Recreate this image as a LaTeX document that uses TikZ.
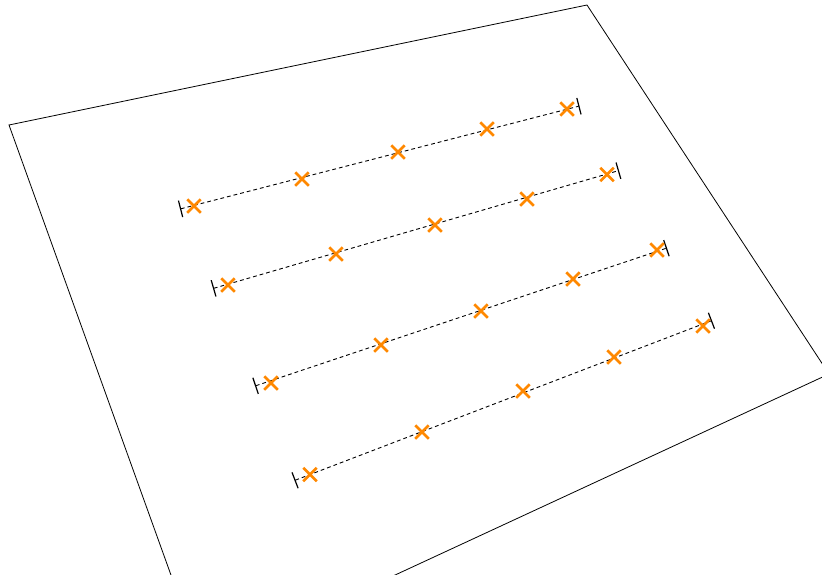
\documentclass[tikz,border=0pt]{standalone}
\usetikzlibrary{shapes.misc,arrows.meta}
\definecolor{markorange}{RGB}{255,136,0}
\tikzset{
  plane/.style={draw=black,line width=0.8pt,line join=miter},
  track/.style={draw=black,line width=0.9pt,dash pattern=on 3.8pt off 3pt,{Bar[width=17pt,line width=1.2pt]}-{Bar[width=17pt,line width=1.2pt]}},
  xmark/.style={cross out,draw=markorange,line width=2.5pt,minimum size=11pt,inner sep=0pt}
}
\begin{document}
\begin{tikzpicture}[x=1pt,y=-1pt]
\useasboundingbox (0,0) rectangle (822,574);
\clip (0,0) rectangle (822,574);
% plane corners
\coordinate (p1) at (9,125);
\coordinate (p2) at (587,5);
\coordinate (p3) at (829,374);
\coordinate (p4) at (203,664);
\draw[plane] (p1) -- (p2) -- (p3) -- (p4) -- cycle;
% track ends
\coordinate (a0) at (180,209);   \coordinate (a1) at (579.5,106);
\coordinate (b0) at (213,288.5); \coordinate (b1) at (619,170.5);
\coordinate (c0) at (255,386);   \coordinate (c1) at (667,248);
\coordinate (d0) at (294.5,480.5); \coordinate (d1) at (712,320.5);
\draw[track] (a0) -- (a1);
\draw[track] (b0) -- (b1);
\draw[track] (c0) -- (c1);
\draw[track] (d0) -- (d1);
% marks
\node[xmark] (ma1) at (194,206) {};
\node[xmark] (ma2) at (302,179) {};
\node[xmark] (ma3) at (398,152) {};
\node[xmark] (ma4) at (487,129) {};
\node[xmark] (ma5) at (567,109) {};
\node[xmark] (mb1) at (228,285) {};
\node[xmark] (mb2) at (336,254) {};
\node[xmark] (mb3) at (435,225) {};
\node[xmark] (mb4) at (527,199) {};
\node[xmark] (mb5) at (607,174.5) {};
\node[xmark] (mc1) at (271,383) {};
\node[xmark] (mc2) at (381,345) {};
\node[xmark] (mc3) at (481,311) {};
\node[xmark] (mc4) at (573,279) {};
\node[xmark] (mc5) at (657,250) {};
\node[xmark] (md1) at (310,474.5) {};
\node[xmark] (md2) at (422,432) {};
\node[xmark] (md3) at (523,391) {};
\node[xmark] (md4) at (614,357) {};
\node[xmark] (md5) at (703,326) {};
\end{tikzpicture}
\end{document}
